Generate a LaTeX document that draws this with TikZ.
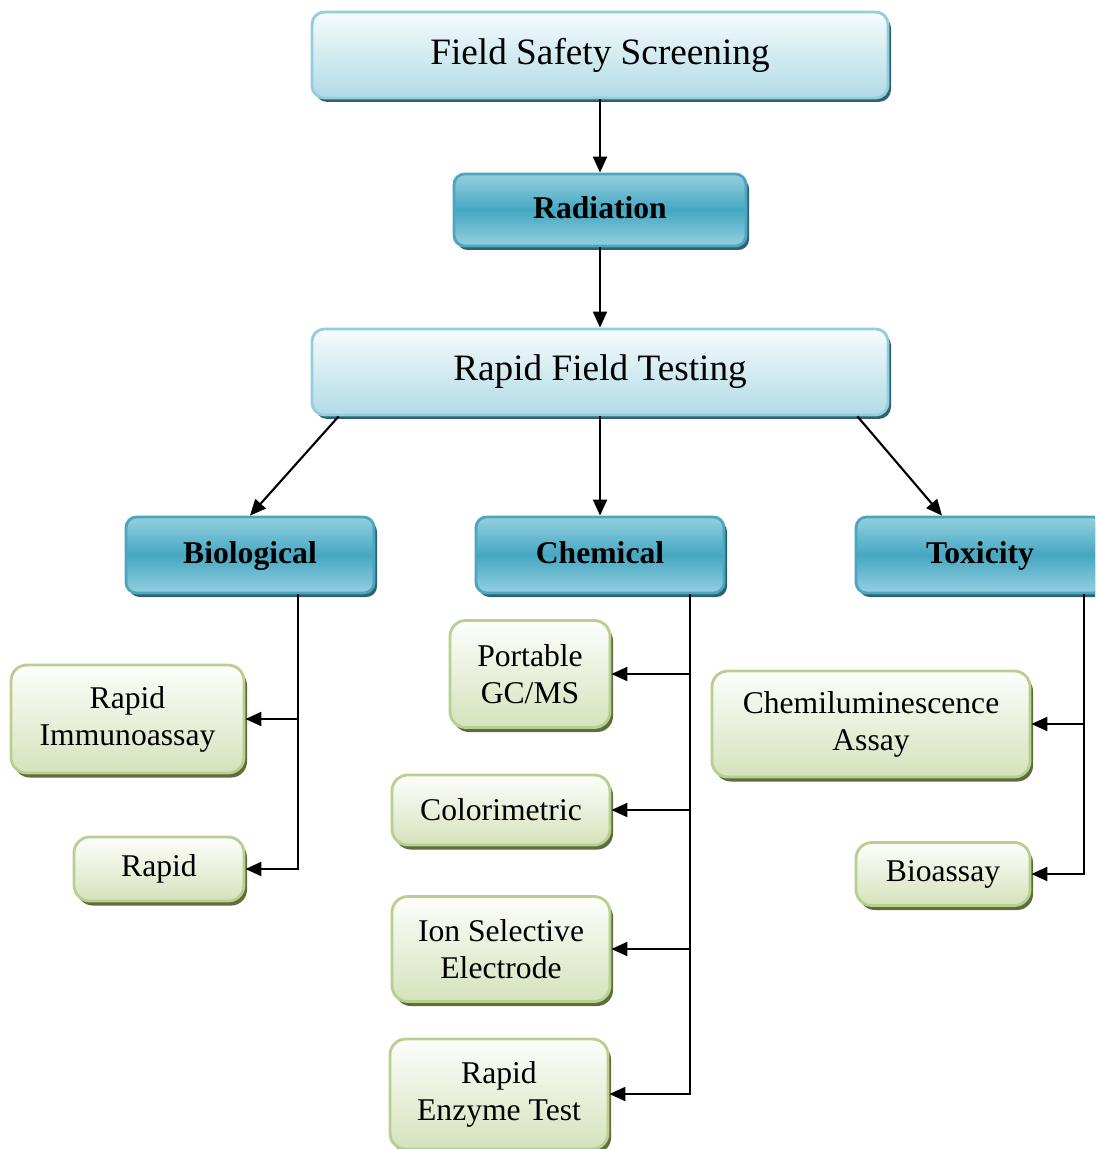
\documentclass[tikz,border=0pt]{standalone}
\usepackage{fontspec}
\setmainfont{Liberation Serif}
\usetikzlibrary{positioning,shadows,arrows.meta}
\definecolor{skyedge}{RGB}{148,206,221}
\definecolor{skytop}{RGB}{246,251,252}
\definecolor{skybot}{RGB}{176,219,230}
\definecolor{tealshade}{RGB}{45,99,112}
\definecolor{tealedge}{RGB}{75,167,192}
\definecolor{tealmid}{RGB}{70,167,194}
\definecolor{teallight}{RGB}{148,208,223}
\definecolor{leafedge}{RGB}{184,208,143}
\definecolor{leaftop}{RGB}{253,254,251}
\definecolor{leafbot}{RGB}{213,226,188}
\definecolor{leafshade}{RGB}{94,109,58}
\tikzset{
  bigbox/.style={draw=skyedge, line width=0.8pt, top color=skytop, bottom color=skybot,
                 rounded corners=3.5pt, align=center, inner sep=0pt,
                 font=\fontsize{10.6pt}{12.7pt}\selectfont,
                 minimum width=57.6mm, minimum height=8.6mm,
                 drop shadow={shadow xshift=0.3mm, shadow yshift=-0.4mm, fill=tealshade, opacity=1}},
  catbox/.style={draw=tealedge, line width=0.8pt, top color=teallight, bottom color=teallight,
                 middle color=tealmid, rounded corners=3pt, align=center, inner sep=0pt,
                 font=\fontsize{9pt}{11pt}\selectfont\bfseries,
                 text height=0.72em, text depth=0.22em,
                 minimum width=24.8mm, minimum height=7.6mm,
                 drop shadow={shadow xshift=0.3mm, shadow yshift=-0.4mm, fill=tealshade, opacity=1}},
  leafbox/.style={draw=leafedge, line width=0.8pt, top color=leaftop, bottom color=leafbot,
                  rounded corners=4.5pt, align=center, inner sep=0pt,
                  font=\fontsize{9pt}{10.5pt}\selectfont,
                  drop shadow={shadow xshift=0.3mm, shadow yshift=-0.45mm, fill=leafshade, opacity=1}},
  flowarr/.style={-{Triangle[length=1.6mm,width=1.4mm]}, line width=0.6pt, draw=black},
}
\newcommand{\CLeft}{250}
\newcommand{\CMid}{600}
\newcommand{\CRight}{980}
\newcommand{\feed}[2]{\draw[flowarr] (#1) |- (#2);}

\begin{document}
\begin{tikzpicture}[x=0.1mm,y=-0.1mm]
    \useasboundingbox (0,0) rectangle (1095,1149);
    \clip (0,0) rectangle (1095,1149);

      \node[bigbox] (screen) at (\CMid,55) {Field Safety Screening};
      \node[catbox, minimum width=29.2mm, minimum height=7.2mm] (rad) at (\CMid,210) {Radiation};
      \node[bigbox] (rft) at (\CMid,372) {Rapid Field Testing};

      \node[catbox] (bio) at (\CLeft,555) {Biological};
      \node[catbox] (chem) at (\CMid,555) {Chemical};
      \node[catbox] (tox) at (\CRight,555) {Toxicity};

      \node[leafbox, minimum width=23.3mm, minimum height=10.8mm] (immuno) at (127.5,719) {Rapid\\Immunoassay};
      \node[leafbox, minimum width=17mm, minimum height=6.4mm] (rapid) at (159,869) {Rapid};

      \node[leafbox, minimum width=16mm, minimum height=10.7mm] (gcms) at (530,674) {Portable\\GC/MS};
      \node[leafbox, minimum width=21.8mm, minimum height=7mm] (color) at (501,810) {Colorimetric};
      \node[leafbox, minimum width=21.8mm, minimum height=10.5mm] (ion) at (501,949) {Ion Selective\\Electrode};
      \node[leafbox, minimum width=21.8mm, minimum height=11mm] (enzyme) at (499,1094) {Rapid\\Enzyme Test};

      \node[leafbox, minimum width=31.8mm, minimum height=10.6mm] (chemlum) at (871,724) {Chemiluminescence\\Assay};
      \node[leafbox, minimum width=17.4mm, minimum height=6.3mm] (bioassay) at (943,874) {Bioassay};

      \draw[flowarr] (screen.south) -- (rad.north);
      \draw[flowarr] (rad.south) -- (rft.north);
      \draw[flowarr] ([xshift=2.8mm]rft.south west) -- (bio.north);
      \draw[flowarr] (rft.south) -- (chem.north);
      \draw[flowarr] ([xshift=-3.2mm]rft.south east) -- ([xshift=-3.8mm]tox.north);

      \coordinate (bioTrunk) at ([xshift=4.8mm]bio.south);
      \coordinate (chemTrunk) at ([xshift=9mm]chem.south);
      \coordinate (toxTrunk) at ([xshift=10.4mm]tox.south);

      \feed{bioTrunk}{immuno}
      \feed{bioTrunk}{rapid}
      \feed{chemTrunk}{gcms}
      \feed{chemTrunk}{color}
      \feed{chemTrunk}{ion}
      \feed{chemTrunk}{enzyme}
      \feed{toxTrunk}{chemlum}
      \feed{toxTrunk}{bioassay}

\end{tikzpicture}
\end{document}
